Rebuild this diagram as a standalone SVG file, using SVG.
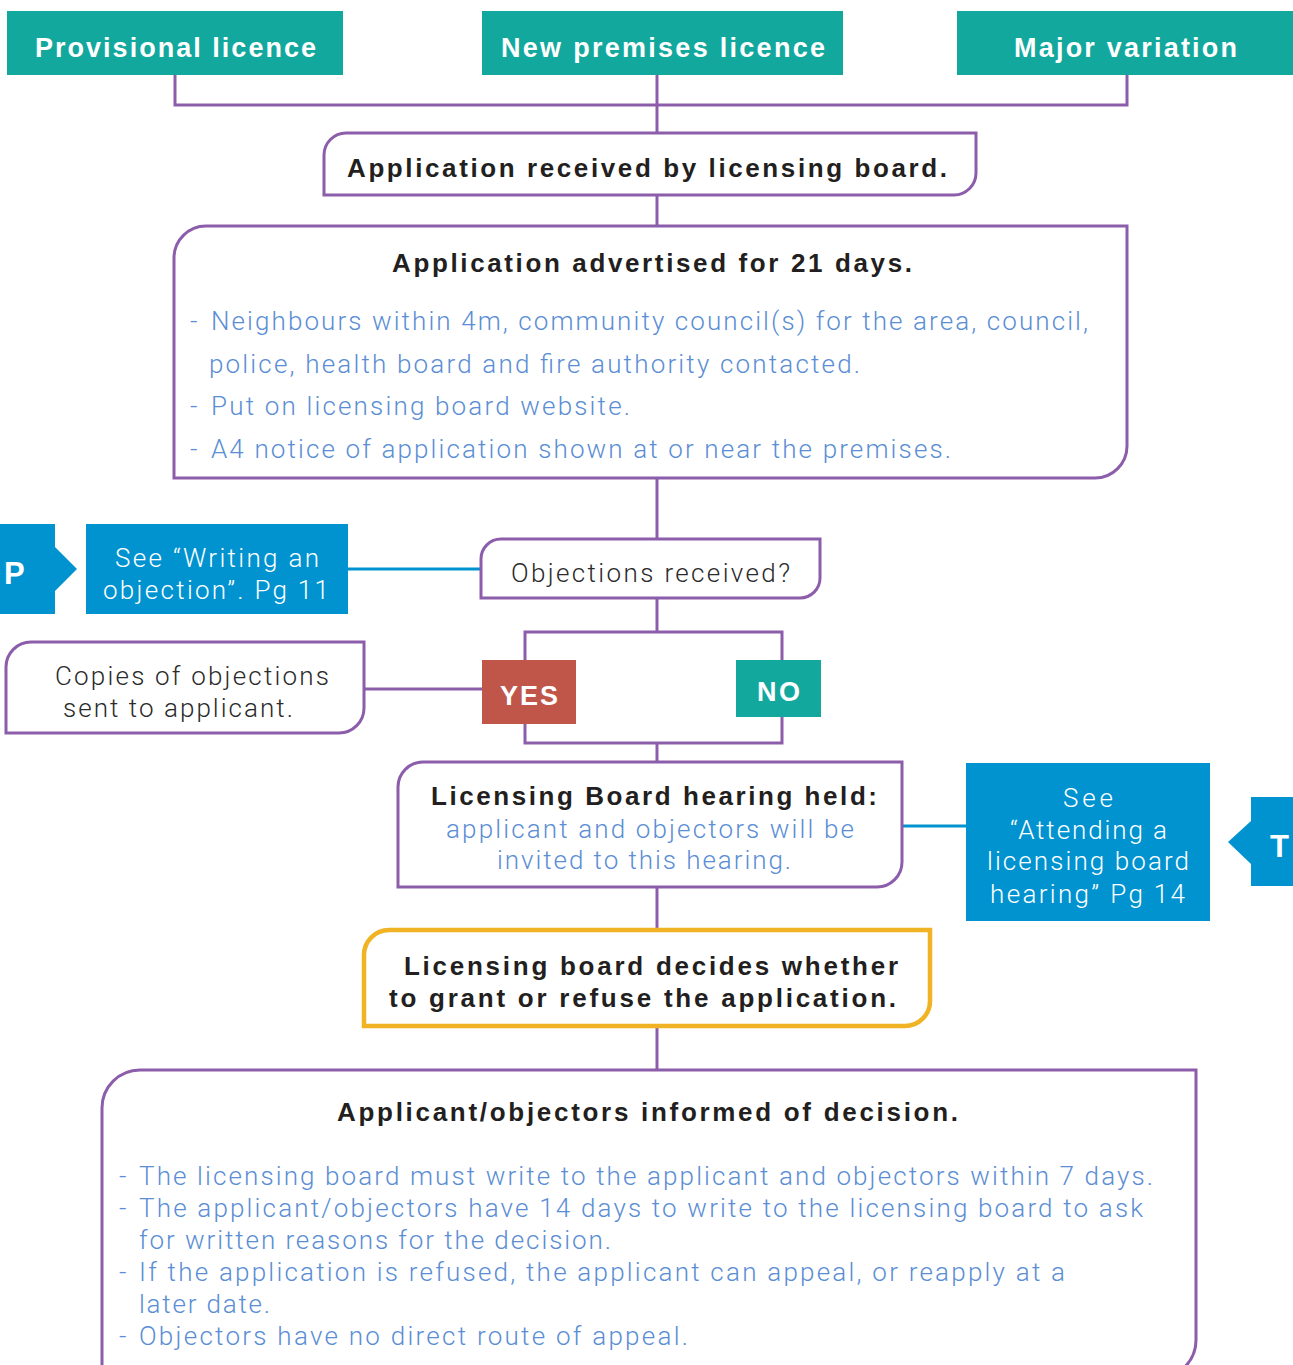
<svg xmlns="http://www.w3.org/2000/svg" width="1293" height="1365" viewBox="0 0 1293 1365">
<style>
.teal{fill:#13A89E}
.box{fill:#fff;stroke:#8C5DAA;stroke-width:3}
.ybox{fill:#fff;stroke:#F0B323;stroke-width:4.5}
.blue{fill:#0093D0}
.con{stroke:#8C5DAA;stroke-width:3;fill:none}
.bcon{stroke:#0093D0;stroke-width:3;fill:none}
.hw{font-family:"Liberation Sans",Arial,sans-serif;font-weight:bold;font-size:27px;fill:#fff}
.tab{font-family:"Liberation Sans",Arial,sans-serif;font-weight:bold;font-size:31px;fill:#fff}
.hd{font-family:"Liberation Sans",Arial,sans-serif;font-weight:bold;font-size:26px;fill:#231F20}
.lb{font-family:Roboto,"Liberation Sans",sans-serif;font-weight:300;font-size:26px;fill:#5B8ED4}
.lg{font-family:Roboto,"Liberation Sans",sans-serif;font-weight:300;font-size:26px;fill:#2B2B2B}
.lw{font-family:Roboto,"Liberation Sans",sans-serif;font-weight:300;font-size:26px;fill:#fff}
</style>
<g id="connectors">
<polyline class="con" points="175,75 175,105 1127,105 1127,75"/>
<line class="con" x1="657" y1="75" x2="657" y2="133"/>
<line class="con" x1="657" y1="195" x2="657" y2="226"/>
<line class="con" x1="657" y1="478" x2="657" y2="539"/>
<line class="con" x1="657" y1="598" x2="657" y2="632"/>
<rect class="con" x="525" y="632" width="257" height="111"/>
<line class="con" x1="657" y1="743" x2="657" y2="762"/>
<line class="con" x1="364" y1="689" x2="482" y2="689"/>
<line class="con" x1="657" y1="887" x2="657" y2="930"/>
<line class="con" x1="657" y1="1026" x2="657" y2="1070"/>
<line class="bcon" x1="348" y1="569" x2="481" y2="569"/>
<line class="bcon" x1="902" y1="826" x2="966" y2="826"/>
</g>
<g id="provisional">
<rect class="teal" x="7" y="11" width="336" height="64"/>
<text class="hw" x="35" y="57" textLength="281" lengthAdjust="spacing">Provisional licence</text>
</g>
<g id="newpremises">
<rect class="teal" x="482" y="11" width="361" height="64"/>
<text class="hw" x="501" y="57" textLength="324" lengthAdjust="spacing">New premises licence</text>
</g>
<g id="majorvariation">
<rect class="teal" x="957" y="11" width="336" height="64"/>
<text class="hw" x="1014" y="57" textLength="223" lengthAdjust="spacing">Major variation</text>
</g>
<g id="received">
<path class="box" d="M324,155 A22,22 0 0 1 346,133 H976 V173 A22,22 0 0 1 954,195 H324 Z"/>
<text class="hd" x="347" y="177" textLength="600" lengthAdjust="spacing">Application received by licensing board.</text>
</g>
<g id="advertised">
<path class="box" d="M174,258 A32,32 0 0 1 206,226 H1127 V446 A32,32 0 0 1 1095,478 H174 Z"/>
<text class="hd" x="392" y="272" textLength="520" lengthAdjust="spacing">Application advertised for 21 days.</text>
<text class="lb" x="190" y="330">-</text>
<text class="lb" x="211" y="330" textLength="877" lengthAdjust="spacing">Neighbours within 4m, community council(s) for the area, council,</text>
<text class="lb" x="209" y="373" textLength="651" lengthAdjust="spacing">police, health board and fire authority contacted.</text>
<text class="lb" x="190" y="415">-</text>
<text class="lb" x="211" y="415" textLength="419" lengthAdjust="spacing">Put on licensing board website.</text>
<text class="lb" x="190" y="458">-</text>
<text class="lb" x="211" y="458" textLength="740" lengthAdjust="spacing">A4 notice of application shown at or near the premises.</text>
</g>
<g id="tabP">
<path class="blue" d="M0,524 H55 V547 L77,569 L55,591 V614 H0 Z"/>
<text class="tab" x="4" y="584">P</text>
</g>
<g id="seeWriting">
<rect class="blue" x="86" y="524" width="262" height="90"/>
<text class="lw" x="115" y="567" textLength="204" lengthAdjust="spacing">See “Writing an</text>
<text class="lw" x="103" y="599" textLength="226" lengthAdjust="spacing">objection”. Pg 11</text>
</g>
<g id="objections">
<path class="box" d="M481,559 A20,20 0 0 1 501,539 H820 V578 A20,20 0 0 1 800,598 H481 Z"/>
<text class="lg" x="511" y="582" textLength="279" lengthAdjust="spacing">Objections received?</text>
</g>
<g id="copies">
<path class="box" d="M6,667 A25,25 0 0 1 31,642 H364 V708 A25,25 0 0 1 339,733 H6 Z"/>
<text class="lg" x="55" y="685" textLength="274" lengthAdjust="spacing">Copies of objections</text>
<text class="lg" x="63" y="717" textLength="230" lengthAdjust="spacing">sent to applicant.</text>
</g>
<g id="yes">
<rect x="482" y="660" width="94" height="64" fill="#C0564A"/>
<text class="hw" x="500" y="705" textLength="58" lengthAdjust="spacing">YES</text>
</g>
<g id="no">
<rect class="teal" x="736" y="660" width="85" height="57"/>
<text class="hw" x="757" y="701" textLength="43" lengthAdjust="spacing">NO</text>
</g>
<g id="hearing">
<path class="box" d="M398,787 A25,25 0 0 1 423,762 H902 V862 A25,25 0 0 1 877,887 H398 Z"/>
<text class="hd" x="431" y="805" textLength="446" lengthAdjust="spacing">Licensing Board hearing held:</text>
<text class="lb" x="446" y="838" textLength="408" lengthAdjust="spacing">applicant and objectors will be</text>
<text class="lb" x="497" y="869" textLength="294" lengthAdjust="spacing">invited to this hearing.</text>
</g>
<g id="seeAttending">
<rect class="blue" x="966" y="763" width="244" height="158"/>
<text class="lw" x="1063" y="807" textLength="50" lengthAdjust="spacing">See</text>
<text class="lw" x="1010" y="839" textLength="157" lengthAdjust="spacing">“Attending a</text>
<text class="lw" x="987" y="870" textLength="202" lengthAdjust="spacing">licensing board</text>
<text class="lw" x="990" y="903" textLength="195" lengthAdjust="spacing">hearing” Pg 14</text>
</g>
<g id="tabT">
<path class="blue" d="M1293,797 H1251 V821 L1228,842 L1251,864 V886 H1293 Z"/>
<text class="tab" x="1270" y="857">T</text>
</g>
<g id="decides">
<path class="ybox" d="M364,955 A25,25 0 0 1 389,930 H930 V1001 A25,25 0 0 1 905,1026 H364 Z"/>
<text class="hd" x="404" y="975" textLength="494" lengthAdjust="spacing">Licensing board decides whether</text>
<text class="hd" x="389" y="1007" textLength="507" lengthAdjust="spacing">to grant or refuse the application.</text>
</g>
<g id="informed">
<path class="box" d="M102,1380 V1108 A38,38 0 0 1 140,1070 H1196 V1340 A38,38 0 0 1 1158,1378"/>
<text class="hd" x="337" y="1121" textLength="621" lengthAdjust="spacing">Applicant/objectors informed of decision.</text>
<text class="lb" x="119" y="1185">-</text>
<text class="lb" x="139" y="1185" textLength="1014" lengthAdjust="spacing">The licensing board must write to the applicant and objectors within 7 days.</text>
<text class="lb" x="119" y="1217">-</text>
<text class="lb" x="139" y="1217" textLength="1004" lengthAdjust="spacing">The applicant/objectors have 14 days to write to the licensing board to ask</text>
<text class="lb" x="139" y="1249" textLength="472" lengthAdjust="spacing">for written reasons for the decision.</text>
<text class="lb" x="119" y="1281">-</text>
<text class="lb" x="139" y="1281" textLength="926" lengthAdjust="spacing">If the application is refused, the applicant can appeal, or reapply at a</text>
<text class="lb" x="139" y="1313" textLength="131" lengthAdjust="spacing">later date.</text>
<text class="lb" x="119" y="1345">-</text>
<text class="lb" x="139" y="1345" textLength="549" lengthAdjust="spacing">Objectors have no direct route of appeal.</text>
</g>
</svg>
